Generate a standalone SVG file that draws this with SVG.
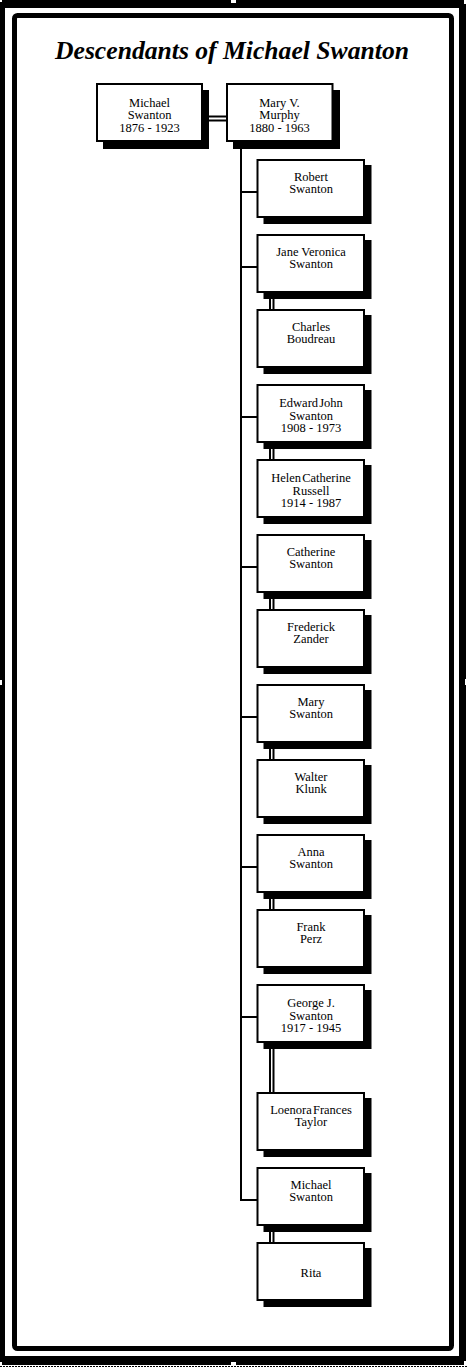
<svg xmlns="http://www.w3.org/2000/svg" width="470" height="1368" viewBox="0 0 470 1368">
<style>
.bg{fill:#fff}
.blk{fill:#000}
.box{fill:#fff;stroke:#000;stroke-width:2}
.sh{fill:#000}
.t{font-family:"Liberation Serif","Times New Roman",serif;font-size:12.5px;text-anchor:middle;fill:#000}
.ttl{font-family:"Liberation Serif","Times New Roman",serif;font-size:26px;font-weight:bold;font-style:italic;text-anchor:middle;fill:#000}
.ln{stroke:#000;stroke-width:2;fill:none}
.hd{fill:#fff}
</style>
<rect class="bg" x="0" y="0" width="470" height="1368"/>
<g id="frame">
<rect class="blk" x="0" y="0" width="466" height="1365"/>
<rect class="bg" x="5" y="8" width="454" height="1348"/>
<rect x="14.5" y="15.5" width="437" height="1333" rx="3" fill="#fff" stroke="#000" stroke-width="5"/>
<rect class="hd" x="0" y="0" width="2" height="2"/>
<rect class="hd" x="231" y="0" width="5" height="3"/>
<rect class="hd" x="464" y="0" width="3" height="4"/>
<rect class="hd" x="466" y="0" width="4" height="1368"/>
<rect class="hd" x="0" y="680" width="2" height="5"/>
<rect class="hd" x="465" y="679" width="3" height="6"/>
<rect class="hd" x="0" y="1362" width="2" height="4"/>
<rect class="hd" x="231" y="1362" width="5" height="4"/>
<rect class="hd" x="464" y="1361" width="4" height="5"/>
<line x1="0" y1="1366.5" x2="468" y2="1366.5" stroke="#000" stroke-width="1" stroke-dasharray="2 1"/>
</g>
<text id="title" class="ttl" x="232" y="59" textLength="354" lengthAdjust="spacingAndGlyphs">Descendants of Michael Swanton</text>
<g id="connectors">
<line class="ln" x1="203" y1="116.5" x2="226" y2="116.5"/>
<line class="ln" x1="203" y1="120.5" x2="226" y2="120.5"/>
<polyline class="ln" points="241,142 241,1200 257,1200"/>
<line class="ln" x1="241" y1="192" x2="257" y2="192"/>
<line class="ln" x1="241" y1="267" x2="257" y2="267"/>
<line class="ln" x1="241" y1="417" x2="257" y2="417"/>
<line class="ln" x1="241" y1="567" x2="257" y2="567"/>
<line class="ln" x1="241" y1="717" x2="257" y2="717"/>
<line class="ln" x1="241" y1="867" x2="257" y2="867"/>
<line class="ln" x1="241" y1="1017" x2="257" y2="1017"/>
<path class="ln" d="M270,293V309M273.5,293V309M270,443V459M273.5,443V459M270,593V609M273.5,593V609M270,743V759M273.5,743V759M270,893V909M273.5,893V909M270,1043V1092M273.5,1043V1092M270,1226V1242M273.5,1226V1242"/>
</g>
<g id="n-michael-sr">
<rect class="sh" x="103" y="90" width="106" height="59"/>
<rect class="box" x="97" y="84" width="105" height="57"/>
<text class="t" x="149.5" y="106.7">Michael</text>
<text class="t" x="149.5" y="119.2">Swanton</text>
<text class="t" x="149.5" y="131.7">1876 - 1923</text>
</g>
<g id="n-mary-murphy">
<rect class="sh" x="233" y="90" width="107" height="59"/>
<rect class="box" x="227" y="84" width="105.5" height="57"/>
<text class="t" x="279.5" y="106.7">Mary V.</text>
<text class="t" x="279.5" y="119.2">Murphy</text>
<text class="t" x="279.5" y="131.7">1880 - 1963</text>
</g>
<g id="n-robert">
<rect class="sh" x="263.5" y="165" width="108" height="59"/>
<rect class="box" x="257.5" y="160" width="106.5" height="57"/>
<text class="t" x="311" y="180.5">Robert</text>
<text class="t" x="311" y="193">Swanton</text>
</g>
<g id="n-jane">
<rect class="sh" x="263.5" y="240" width="108" height="59"/>
<rect class="box" x="257.5" y="235" width="106.5" height="57"/>
<text class="t" x="311" y="255.5">Jane Veronica</text>
<text class="t" x="311" y="268">Swanton</text>
</g>
<g id="n-charles">
<rect class="sh" x="263.5" y="315" width="108" height="59"/>
<rect class="box" x="257.5" y="310" width="106.5" height="57"/>
<text class="t" x="311" y="330.5">Charles</text>
<text class="t" x="311" y="343">Boudreau</text>
</g>
<g id="n-edward">
<rect class="sh" x="263.5" y="390" width="108" height="59"/>
<rect class="box" x="257.5" y="385" width="106.5" height="57"/>
<text class="t" x="311" y="407" word-spacing="-2">Edward John</text>
<text class="t" x="311" y="419.5">Swanton</text>
<text class="t" x="311" y="432">1908 - 1973</text>
</g>
<g id="n-helen">
<rect class="sh" x="263.5" y="465" width="108" height="59"/>
<rect class="box" x="257.5" y="460" width="106.5" height="57"/>
<text class="t" x="311" y="482" word-spacing="-2">Helen Catherine</text>
<text class="t" x="311" y="494.5">Russell</text>
<text class="t" x="311" y="507">1914 - 1987</text>
</g>
<g id="n-catherine">
<rect class="sh" x="263.5" y="540" width="108" height="59"/>
<rect class="box" x="257.5" y="535" width="106.5" height="57"/>
<text class="t" x="311" y="555.5">Catherine</text>
<text class="t" x="311" y="568">Swanton</text>
</g>
<g id="n-frederick">
<rect class="sh" x="263.5" y="615" width="108" height="59"/>
<rect class="box" x="257.5" y="610" width="106.5" height="57"/>
<text class="t" x="311" y="630.5">Frederick</text>
<text class="t" x="311" y="643">Zander</text>
</g>
<g id="n-mary">
<rect class="sh" x="263.5" y="690" width="108" height="59"/>
<rect class="box" x="257.5" y="685" width="106.5" height="57"/>
<text class="t" x="311" y="705.5">Mary</text>
<text class="t" x="311" y="718">Swanton</text>
</g>
<g id="n-walter">
<rect class="sh" x="263.5" y="765" width="108" height="59"/>
<rect class="box" x="257.5" y="760" width="106.5" height="57"/>
<text class="t" x="311" y="780.5">Walter</text>
<text class="t" x="311" y="793">Klunk</text>
</g>
<g id="n-anna">
<rect class="sh" x="263.5" y="840" width="108" height="59"/>
<rect class="box" x="257.5" y="835" width="106.5" height="57"/>
<text class="t" x="311" y="855.5">Anna</text>
<text class="t" x="311" y="868">Swanton</text>
</g>
<g id="n-frank">
<rect class="sh" x="263.5" y="915" width="108" height="59"/>
<rect class="box" x="257.5" y="910" width="106.5" height="57"/>
<text class="t" x="311" y="930.5">Frank</text>
<text class="t" x="311" y="943">Perz</text>
</g>
<g id="n-george">
<rect class="sh" x="263.5" y="990" width="108" height="59"/>
<rect class="box" x="257.5" y="985" width="106.5" height="57"/>
<text class="t" x="311" y="1007">George J.</text>
<text class="t" x="311" y="1019.5">Swanton</text>
<text class="t" x="311" y="1032">1917 - 1945</text>
</g>
<g id="n-loenora">
<rect class="sh" x="263.5" y="1098" width="108" height="59"/>
<rect class="box" x="257.5" y="1093" width="106.5" height="57"/>
<text class="t" x="311" y="1113.5" word-spacing="-2">Loenora Frances</text>
<text class="t" x="311" y="1126">Taylor</text>
</g>
<g id="n-michael-jr">
<rect class="sh" x="263.5" y="1173" width="108" height="59"/>
<rect class="box" x="257.5" y="1168" width="106.5" height="57"/>
<text class="t" x="311" y="1188.5">Michael</text>
<text class="t" x="311" y="1201">Swanton</text>
</g>
<g id="n-rita">
<rect class="sh" x="263.5" y="1248" width="108" height="59"/>
<rect class="box" x="257.5" y="1243" width="106.5" height="57"/>
<text class="t" x="311" y="1277">Rita</text>
</g>
</svg>
